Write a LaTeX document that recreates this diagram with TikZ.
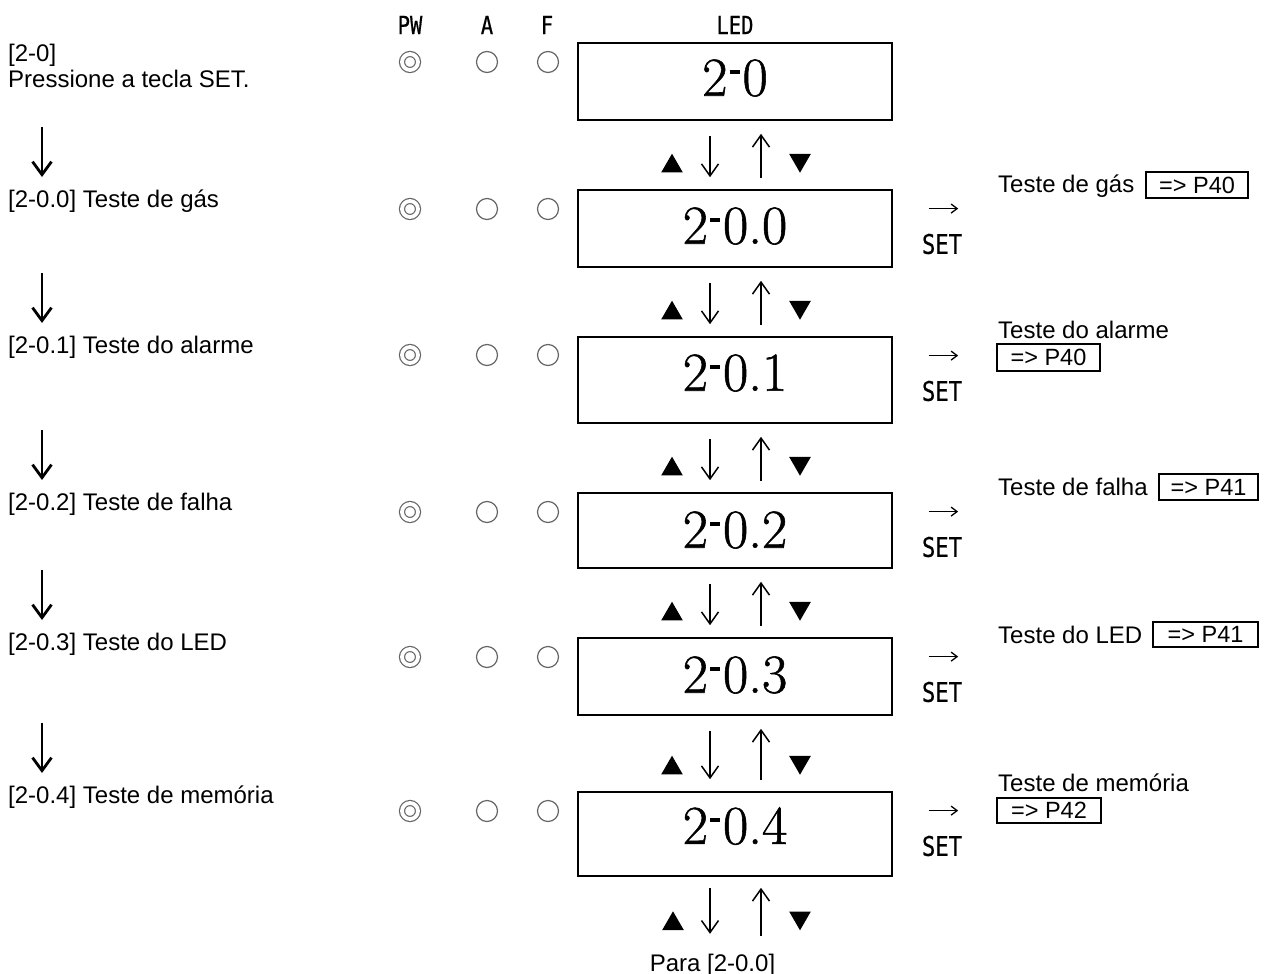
\documentclass[tikz,border=0pt]{standalone}
\usepackage{fontspec}
\newfontfamily\arial{Liberation Sans}
\newfontfamily\gothic[FakeStretch=0.82,FakeBold=0.6]{DejaVu Sans Mono}
\newfontfamily\ledfont[FakeBold=1]{Latin Modern Roman}
\usetikzlibrary{arrows.meta,shapes.geometric,calc}
\newcommand{\ledhy}{\kern2pt\rule[21.5pt]{10pt}{4pt}\kern3pt}
\begin{document}
\begin{tikzpicture}[x=1pt,y=-1pt,
  lbl/.style={font=\arial\fontsize{24}{26}\selectfont, inner sep=0, anchor=base west},
  hdr/.style={font=\gothic\fontsize{25}{25}\selectfont, inner sep=0},
  setlbl/.style={font=\gothic\fontsize{27}{27}\selectfont, inner sep=0},
  ledbox/.style={draw, line width=1.6, minimum width=314, inner sep=0},
  ledtxt/.style={font=\ledfont\fontsize{55}{60}\selectfont, inner sep=0},
  led/.style={circle, draw=black!60, line width=1.2, minimum size=21, inner sep=0},
  pwled/.style={circle, draw=black!60, line width=1.2, double=white, double distance=3.8, minimum size=16, inner sep=0},
  pbox/.style={draw, line width=1.8, font=\arial\fontsize{23.5}{26}\selectfont, inner sep=0},
  triup/.style={regular polygon, regular polygon sides=3, fill=black, minimum size=25, inner sep=0},
  tridn/.style={regular polygon, regular polygon sides=3, shape border rotate=180, fill=black, minimum size=25, inner sep=0},
  marr/.style={line width=1.5, -{Straight Barb[length=12,width=17]}},
  larr/.style={line width=2.8, -{Straight Barb[length=13,width=19,line width=2.8]}},
  sarr/.style={line width=1.3, -{Straight Barb[length=6,width=9]}}
]
\useasboundingbox (0,0) rectangle (1269,974);

% headers
\node[hdr] (hpw) at (410,25) {PW};
\node[hdr] (ha) at (487,25) {A};
\node[hdr] (hf) at (547,25) {F};
\node[hdr] (hled) at (735,25) {LED};

% LED indicator circles
\foreach \i/\y in {0/62,1/209,2/355,3/512,4/657,5/811} {
  \node[pwled] (pw\i) at (410,\y) {};
  \node[led] (a\i) at (487,\y) {};
  \node[led] (f\i) at (548,\y) {};
}

% LED boxes
\node[ledbox, minimum height=77] (b0) at (735,81.5) {};
\node[ledbox, minimum height=77] (b1) at (735,228.5) {};
\node[ledbox, minimum height=86] (b2) at (735,380) {};
\node[ledbox, minimum height=75] (b3) at (735,530.5) {};
\node[ledbox, minimum height=77] (b4) at (735,676.5) {};
\node[ledbox, minimum height=84] (b5) at (735,834) {};

\node[ledtxt] (t0) at (735,78) {2\ledhy0};
\node[ledtxt] (t1) at (735,226) {2\ledhy0.0};
\node[ledtxt] (t2) at (735,373) {2\ledhy0.1};
\node[ledtxt] (t3) at (735,530) {2\ledhy0.2};
\node[ledtxt] (t4) at (735,675) {2\ledhy0.3};
\node[ledtxt] (t5) at (735,826) {2\ledhy0.4};

% arrows between LED boxes
\foreach \u/\l in {b0/b1,b1/b2,b2/b3,b3/b4,b4/b5} {
  \draw[marr] ($(\u.south)+(-25,15)$) -- ($(\l.north)+(-25,-12)$);
  \draw[marr] ($(\l.north)+(26,-11)$) -- ($(\u.south)+(26,13)$);
  \node[triup] at ($(\l.north)+(-63,-23)$) {};
  \node[tridn] at ($(\l.north)+(65,-29)$) {};
}
% bottom group
\node[lbl, anchor=base] (para) at (712.5,971) {Para [2-0.0]};
\coordinate (dn5) at ($(b5.south)+(-25,57)$);
\coordinate (up5) at ($(b5.south)+(26,59)$);
\draw[marr] ($(b5.south)+(-25,11)$) -- (dn5);
\draw[marr] (up5) -- ($(b5.south)+(26,11)$);
\node[triup] at ($(b5.south)+(-62,47)$) {};
\node[tridn] at ($(b5.south)+(65,41)$) {};

% SET marks
\foreach \i/\y in {1/244,2/391,3/547,4/692,5/846} {
  \node[setlbl] (set\i) at (942,\y) {SET};
  \draw[sarr] ($(set\i.north west)+(7,-25)$) -- ($(set\i.north east)+(-4,-25)$);
}

% left column
\node[lbl] (l0a) at (8,62) {[2-0]};
\node[lbl] (l0b) at (8,88) {Pressione a tecla SET.};
\node[lbl] (l1) at (8,207) {[2-0.0] Teste de gás};
\node[lbl] (l2) at (8,353) {[2-0.1] Teste do alarme};
\node[lbl] (l3) at (8,510) {[2-0.2] Teste de falha};
\node[lbl] (l4) at (8,650) {[2-0.3] Teste do LED};
\node[lbl] (l5) at (8,803) {[2-0.4] Teste de memória};

\draw[larr] ($(l0b.base west)+(34,39)$) -- ($(l1.base west)+(34,-30)$);
\draw[larr] ($(l1.base west)+(34,66)$) -- ($(l2.base west)+(34,-30)$);
\draw[larr] ($(l2.base west)+(34,77)$) -- ($(l3.base west)+(34,-30)$);
\draw[larr] ($(l3.base west)+(34,60)$) -- ($(l4.base west)+(34,-30)$);
\draw[larr] ($(l4.base west)+(34,73)$) -- ($(l5.base west)+(34,-30)$);

% right column
\node[lbl] (r1) at (998,192) {Teste de gás};
\node[pbox, minimum width=102, minimum height=26] (p1) at (1197,185) {=> P40};
\node[lbl] (r2) at (998,338) {Teste do alarme};
\node[pbox, minimum width=103, minimum height=27] (p2) at (1048.5,357.5) {=> P40};
\node[lbl] (r3) at (998,495) {Teste de falha};
\node[pbox, minimum width=99, minimum height=26] (p3) at (1208.5,487) {=> P41};
\node[lbl] (r4) at (998,643) {Teste do LED};
\node[pbox, minimum width=105, minimum height=25] (p4) at (1205.5,634.5) {=> P41};
\node[lbl] (r5) at (998,791) {Teste de memória};
\node[pbox, minimum width=104, minimum height=25] (p5) at (1049,810.5) {=> P42};
\end{tikzpicture}
\end{document}
